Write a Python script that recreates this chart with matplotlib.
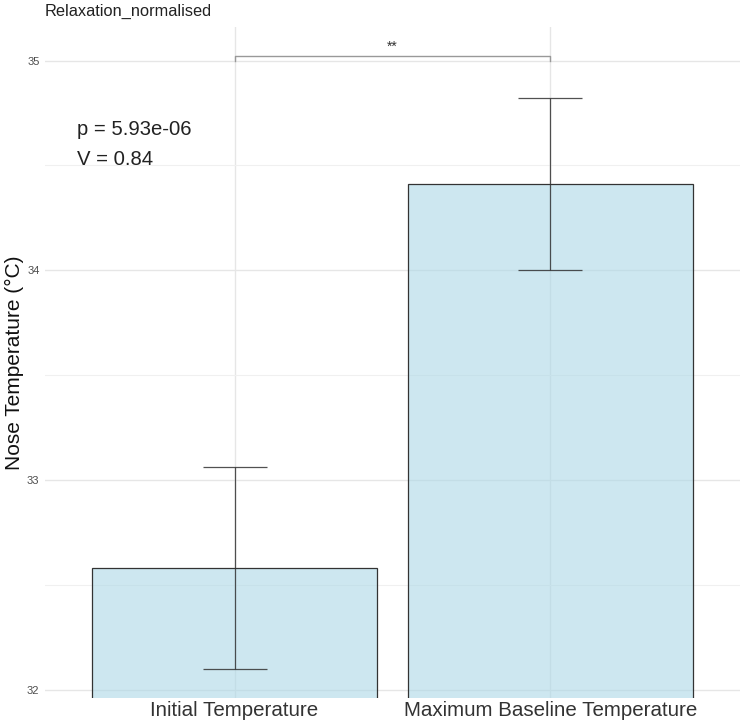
import matplotlib
matplotlib.use('agg')
import matplotlib.pyplot as plt
import numpy as np

plt.rcParams['font.family'] = ['Liberation Sans', 'DejaVu Sans']

# data
categories = ['Initial Temperature', 'Maximum Baseline Temperature']
means = [32.584, 34.413]
errors = [0.481, 0.409]
p_text = 'p = 5.93e-06'
v_text = 'V = 0.84'
sig_label = '**'
title = 'Relaxation_normalised'

fig = plt.figure(figsize=(7.44, 7.28), dpi=100)
ax = fig.add_axes([0.0605, 0.041, 0.934, 0.922])

x = np.arange(1, len(categories) + 1)
ax.set_axisbelow(True)
ax.bar(x, means, width=0.9, color='#add8e6', alpha=0.6, edgecolor='none', zorder=2)
ax.bar(x, means, width=0.9, color='none', edgecolor='#333333', linewidth=0.9, zorder=3)
ax.errorbar(x, means, yerr=errors, fmt='none', ecolor='#333333', elinewidth=0.9,
            capsize=23, capthick=0.9, alpha=0.85, zorder=4)

# significance bracket
y_br, y_leg = 35.022, 35.0
ax.plot([x[0], x[0], x[1], x[1]], [y_leg, y_br, y_br, y_leg], color='#999999', lw=1.0, zorder=4)
ax.text(x.mean(), y_br + 0.012, sig_label, ha='center', va='bottom', fontsize=10, color='#333333')

ax.text(0.5, 34.67, p_text, ha='left', va='center', fontsize=14.6, color='#222222')
ax.text(0.5, 34.53, v_text, ha='left', va='center', fontsize=14.6, color='#222222')

ax.set_xlim(0.4, 2.6)
ax.set_ylim(31.962, 35.16)
ax.set_xticks(x)
ax.set_xticklabels(categories, fontsize=14.8, color='#333333')
ax.set_yticks([32, 33, 34, 35])
ax.set_yticklabels(['32', '33', '34', '35'], fontsize=8, color='#4d4d4d')
ax.set_yticks([32.5, 33.5, 34.5], minor=True)
ax.tick_params(axis='both', which='both', length=0)
ax.tick_params(axis='x', pad=2)
ax.tick_params(axis='y', pad=4)

ax.grid(True, which='major', color='#e6e6e6', linewidth=1.0)
ax.grid(True, which='minor', axis='y', color='#f0f0f0', linewidth=0.8)
for s in ax.spines.values():
    s.set_visible(False)

ax.set_ylabel('Nose Temperature (°C)', fontsize=15, color='#111111', labelpad=2)
ax.set_title(title, loc='left', fontsize=11.8, color='#222222', pad=8, x=-0.0)

fig.savefig('out.png', dpi=100)
